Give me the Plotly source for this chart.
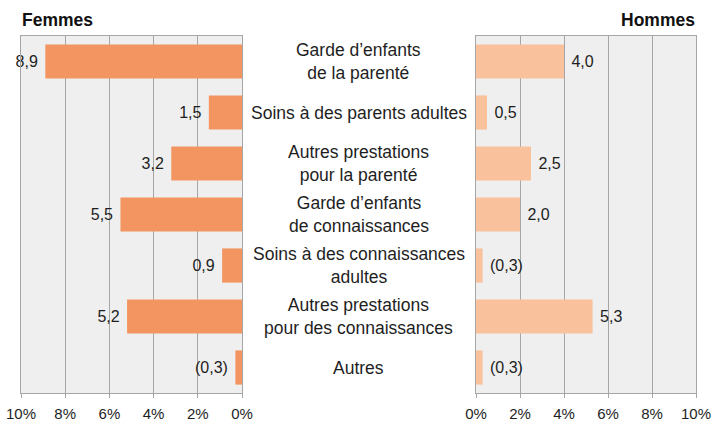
import plotly.graph_objects as go

categories = [
    "Garde d’enfants<br>de la parenté",
    "Soins à des parents adultes",
    "Autres prestations<br>pour la parenté",
    "Garde d’enfants<br>de connaissances",
    "Soins à des connaissances<br>adultes",
    "Autres prestations<br>pour des connaissances",
    "Autres",
]
femmes = [8.9, 1.5, 3.2, 5.5, 0.9, 5.2, 0.3]
hommes = [4.0, 0.5, 2.5, 2.0, 0.3, 5.3, 0.3]
femmes_labels = ["8,9", "1,5", "3,2", "5,5", "0,9", "5,2", "(0,3)"]
hommes_labels = ["4,0", "0,5", "2,5", "2,0", "(0,3)", "5,3", "(0,3)"]
tick_vals = [0, 2, 4, 6, 8, 10]
tick_text = ["0%", "2%", "4%", "6%", "8%", "10%"]

# body margin is removed by the post script, so the figure fills the window
OFF = 0
W, H = 713 - OFF, 423 - OFF
FONT = "Liberation Sans, Arial, sans-serif"
GRID = "#A6A6A6"
TXT = "#1E1E1E"
NB = "\u00a0"


def px_x(x):
    return (x - OFF) / W


def px_y(y):
    return 1 - (y - OFF) / H


fig = go.Figure()
fig.add_trace(go.Bar(
    y=categories, x=femmes, orientation="h", xaxis="x", yaxis="y",
    marker=dict(color="#F29560", line=dict(width=0)),
    text=[t + NB for t in femmes_labels], textposition="outside", cliponaxis=False,
    textfont=dict(size=16, color=TXT, family=FONT),
    showlegend=False, hoverinfo="skip",
))
fig.add_trace(go.Bar(
    y=categories, x=hommes, orientation="h", xaxis="x2", yaxis="y2",
    marker=dict(color="#F9C19C", line=dict(width=0)),
    text=[NB + t for t in hommes_labels], textposition="outside", cliponaxis=False,
    textfont=dict(size=16, color=TXT, family=FONT),
    showlegend=False, hoverinfo="skip",
))

xdom1 = [px_x(21), px_x(242)]
xdom2 = [px_x(476), px_x(696)]
ydom = [px_y(393), px_y(36)]

axis_common = dict(
    tickvals=tick_vals, ticktext=tick_text, showgrid=True, gridcolor=GRID,
    gridwidth=1, showline=True, linecolor=GRID, linewidth=1, mirror=True,
    ticks="outside", ticklen=4, tickcolor=GRID, zeroline=False,
    tickfont=dict(size=15, color=TXT, family=FONT), fixedrange=True,
    automargin=False, ticklabeloverflow="allow", ticklabelstandoff=3,
)
yaxis_common = dict(
    showticklabels=False, showgrid=False, showline=True, linecolor=GRID,
    linewidth=1, mirror=True, ticks="", autorange="reversed", domain=ydom,
    zeroline=False, automargin=False, fixedrange=True,
)

fig.update_layout(
    template="none",
    width=W, height=H,
    margin=dict(l=0, r=0, t=0, b=0, pad=0, autoexpand=False),
    paper_bgcolor="white", plot_bgcolor="#EFEFEF",
    bargap=0.33, showlegend=False,
    font=dict(family=FONT, color=TXT),
    xaxis=dict(domain=xdom1, range=[10, 0], anchor="y", **axis_common),
    xaxis2=dict(domain=xdom2, range=[0, 10], anchor="y2", **axis_common),
    yaxis=dict(anchor="x", **yaxis_common),
    yaxis2=dict(anchor="x2", **yaxis_common),
)

for c in categories:
    fig.add_annotation(
        x=px_x(358.5), xref="paper", y=c, yref="y", text=c, showarrow=False,
        xanchor="center", yanchor="middle", align="center",
        font=dict(size=17.5, color=TXT, family=FONT),
    )

fig.add_annotation(x=px_x(20), xref="paper", y=px_y(20), yref="paper",
                   text="<b>Femmes</b>", showarrow=False, xanchor="left",
                   yanchor="middle", font=dict(size=17.5, color="#111111", family=FONT))
fig.add_annotation(x=px_x(697), xref="paper", y=px_y(20), yref="paper",
                   text="<b>Hommes</b>", showarrow=False, xanchor="right",
                   yanchor="middle", font=dict(size=17.5, color="#111111", family=FONT))

fig.write_html(
    "out.html",
    config={"displayModeBar": False, "staticPlot": True},
    post_script="document.body.style.margin='0';document.body.style.overflow='hidden';",
)
